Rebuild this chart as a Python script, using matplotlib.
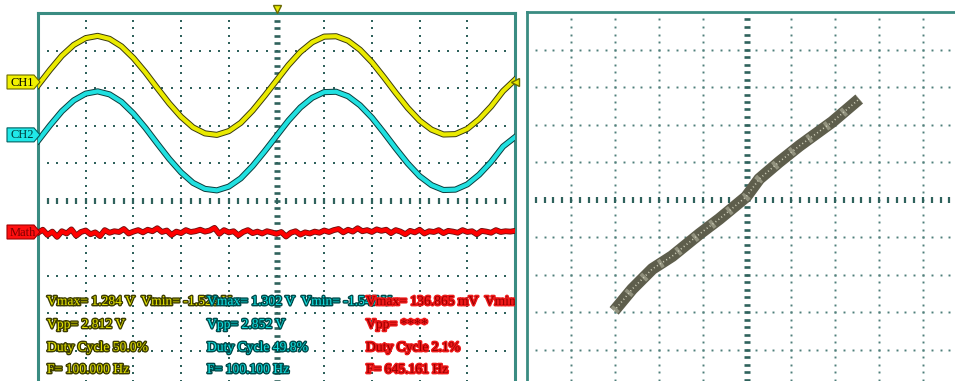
import numpy as np
import matplotlib
matplotlib.use("Agg")
import matplotlib.pyplot as plt
import matplotlib.patheffects as pe
from matplotlib.patches import Polygon
from matplotlib.transforms import IdentityTransform

# ---------------- data (screen divisions) ----------------
ch1_div = [3.07, 3.48, 3.86, 4.15, 4.33, 4.39, 4.31, 4.11, 3.80, 3.42,
           3.00, 2.59, 2.23, 1.95, 1.79, 1.75, 1.85, 2.07, 2.40, 2.79,
           3.20, 3.61, 3.96, 4.22, 4.37, 4.38, 4.26, 4.02, 3.69, 3.29,
           2.87, 2.47, 2.13, 1.89, 1.76, 1.77, 1.91, 2.17, 2.51, 2.92, 3.22]
ch2_div = [1.59, 2.00, 2.38, 2.67, 2.85, 2.91, 2.83, 2.63, 2.32, 1.94,
           1.52, 1.11, 0.75, 0.47, 0.31, 0.27, 0.37, 0.59, 0.92, 1.31,
           1.72, 2.13, 2.48, 2.74, 2.89, 2.90, 2.78, 2.54, 2.21, 1.81,
           1.39, 0.99, 0.65, 0.41, 0.28, 0.29, 0.43, 0.69, 1.03, 1.44, 1.69]
math_div = [-0.86, -0.78, -0.92, -0.83, -0.97, -0.82, -0.88, -0.77, -0.94, -0.84,
            -0.80, -0.90, -0.85, -0.95, -0.79, -0.86, -0.82, -0.84, -0.76, -0.88,
            -0.83, -0.79, -0.85, -0.78, -0.82, -0.74, -0.84, -0.80, -0.92, -0.83,
            -0.87, -0.79, -0.84, -0.82, -0.78, -0.83, -0.80, -0.73, -0.89, -0.79,
            -0.85, -0.82, -0.93, -0.84, -0.79, -0.87, -0.83, -0.88, -0.82, -0.85,
            -0.89, -0.84, -0.96, -0.86, -0.82, -0.91, -0.85, -0.88, -0.83, -0.86,
            -0.80, -0.84, -0.79, -0.76, -0.85, -0.78, -0.83, -0.74, -0.82, -0.79,
            -0.84, -0.77, -0.81, -0.78, -0.87, -0.79, -0.83, -0.90, -0.81, -0.85,
            -0.78, -0.88, -0.82, -0.84, -0.79, -0.87, -0.81, -0.83, -0.86, -0.79,
            -0.84, -0.82, -0.90, -0.81, -0.83, -0.86, -0.79, -0.84, -0.82, -0.83, -0.81]
xy_x = [-3.02, -2.61, -2.15, -1.70, -1.08, -0.63, -0.02, 0.28, 0.73, 1.19, 1.94, 2.55]
xy_y = [-2.97, -2.39, -1.85, -1.51, -0.92, -0.52, 0.07, 0.55, 1.00, 1.43, 2.07, 2.68]

channel_labels = ["CH1", "CH2", "Math"]
channel_pos = [3.16, 1.75, -0.84]

meas_ch1 = ["Vmax= 1.284 V  Vmin= -1.528 V", "Vpp= 2.812 V", "Duty Cycle 50.0%", "F= 100.000 Hz"]
meas_ch2 = ["Vmax= 1.302 V  Vmin= -1.547 V", "Vpp= 2.852 V", "Duty Cycle 49.8%", "F= 100.100 Hz"]
meas_math = ["Vmax= 136.865 mV  Vmin= -136.8 mV", "Vpp= ****", "Duty Cycle 2.1%", "F= 645.161 Hz"]

# ---------------- figure ----------------
W, H = 955, 381
fig = plt.figure(figsize=(W / 100, H / 100), dpi=100)
fig.patch.set_facecolor("white")


def px_axes(x0, x1, y0, y1):
    return fig.add_axes([x0 / W, 1 - y1 / H, (x1 - x0) / W, (y1 - y0) / H])


axL = px_axes(38, 515, 13, 388)
axR = px_axes(527, 967, 12, 387)
axL.set_xlim(0, 10)
axL.set_ylim(-5, 5)
axR.set_xlim(-5, 5)
axR.set_ylim(-5, 5)

GRID = "#2f625c"
FRAME = "#3a8c82"


def draw_grid(ax, x0, ms, col):
    fx = x0 + np.arange(1, 50) / 5.0
    fy = -5 + np.arange(1, 50) / 5.0
    for k in range(1, 10):
        y = -5 + k
        if k != 5:
            ax.plot(fx, np.full_like(fx, y), ls="none", marker="s", ms=ms, mew=0,
                    color=col, zorder=1)
        x = x0 + k
        if k != 5:
            ax.plot(np.full_like(fy, x), fy, ls="none", marker="s", ms=ms, mew=0,
                    color=col, zorder=1)
    ax.plot(fx, np.zeros_like(fx), ls="none", marker="|", ms=4.5, mew=1.6,
            color=GRID, zorder=1)
    ax.plot(np.full_like(fy, x0 + 5), fy, ls="none", marker="_", ms=4.5, mew=1.9,
            color=GRID, zorder=1)


for ax, x0, ms, col in ((axL, 0, 1.8, GRID), (axR, -5, 1.4, "#4f7f7a")):
    ax.set_xticks([])
    ax.set_yticks([])
    ax.set_facecolor("white")
    draw_grid(ax, x0, ms, col)

for name, sp in axL.spines.items():
    sp.set_color(FRAME)
    sp.set_linewidth(2.2)
axL.spines["bottom"].set_visible(False)
for name, sp in axR.spines.items():
    sp.set_color(FRAME)
    sp.set_linewidth(2.0)
axR.spines["bottom"].set_visible(False)
axR.spines["right"].set_visible(False)

# ---------------- traces ----------------
tx = np.linspace(0, 10, len(ch1_div))
mx = np.linspace(0, 10, len(math_div))

axL.plot(tx, ch1_div, color="#eaea00", lw=3.0, zorder=4,
         path_effects=[pe.Stroke(linewidth=4.4, foreground="#3a3a10"), pe.Normal()])
axL.plot(tx, ch2_div, color="#20e0e0", lw=3.0, zorder=4,
         path_effects=[pe.Stroke(linewidth=4.4, foreground="#0c3c3c"), pe.Normal()])
axL.plot(mx, math_div, color="#ff0000", lw=3.0, zorder=4,
         path_effects=[pe.Stroke(linewidth=4.2, foreground="#6a1010"), pe.Normal()])

# XY band
axR.plot(xy_x, xy_y, color="#5e5e4c", lw=8.5, solid_capstyle="butt", zorder=4)
axR.plot(xy_x, xy_y, color="#a9a994", lw=6.5, ls=(0, (0.4, 2.0)), alpha=0.7, zorder=5)
axR.plot(xy_x, xy_y, color="#cfcfba", lw=1.2, ls=(0, (0.6, 1.6)), zorder=5)

# trigger markers
axL.plot([5], [5.1], marker="v", ms=6, color="#e8e800", mec="#6a6a00", clip_on=False, zorder=6)
axL.plot([10], [channel_pos[0]], marker="<", ms=6, color="#e8e800", mec="#6a6a00",
         clip_on=False, zorder=6)

# channel tags
tag_styles = [("#f0f000", "#000000", "#6a6a00"),
              ("#20e8e8", "#003c3c", "#006060"),
              ("#ff1010", "#7a0000", "#a00000")]
for lab, ypos, (face, tcol, edge) in zip(channel_labels, channel_pos, tag_styles):
    X, Y = axL.transData.transform((0, ypos))
    verts = [(X - 31, Y - 7), (X - 4, Y - 7), (X + 2, Y), (X - 4, Y + 7), (X - 31, Y + 7)]
    fig.add_artist(Polygon(verts, closed=True, transform=IdentityTransform(),
                           facecolor=face, edgecolor=edge, lw=0.8, zorder=7))
    fig.text(X - 15.5, Y - 0.5, lab, transform=IdentityTransform(), ha="center", va="center",
             fontsize=9, family="Liberation Serif", color=tcol, zorder=8)

# ---------------- measurement text ----------------
rows_y = [(388 - 305) / 375, (388 - 328) / 375, (388 - 351) / 375, (388 - 373) / 375]
cols = [((47 - 38) / 477, meas_ch1, "#e4e400", "#3c3c00"),
        ((207 - 38) / 477, meas_ch2, "#10e0e0", "#004a4a"),
        ((366 - 38) / 477, meas_math, "#9a0000", "#ee1a1a")]
for z, (cx, texts, fc, sc) in enumerate(cols):
    for ry, s in zip(rows_y, texts):
        t = axL.text(cx, ry, s, transform=axL.transAxes, ha="left", va="baseline",
                     fontsize=9.8, family="Liberation Serif", color=fc, zorder=9 + z,
                     clip_on=True)
        t.set_path_effects([pe.withStroke(linewidth=2.0, foreground=sc)])

fig.savefig("out.png", dpi=100)
